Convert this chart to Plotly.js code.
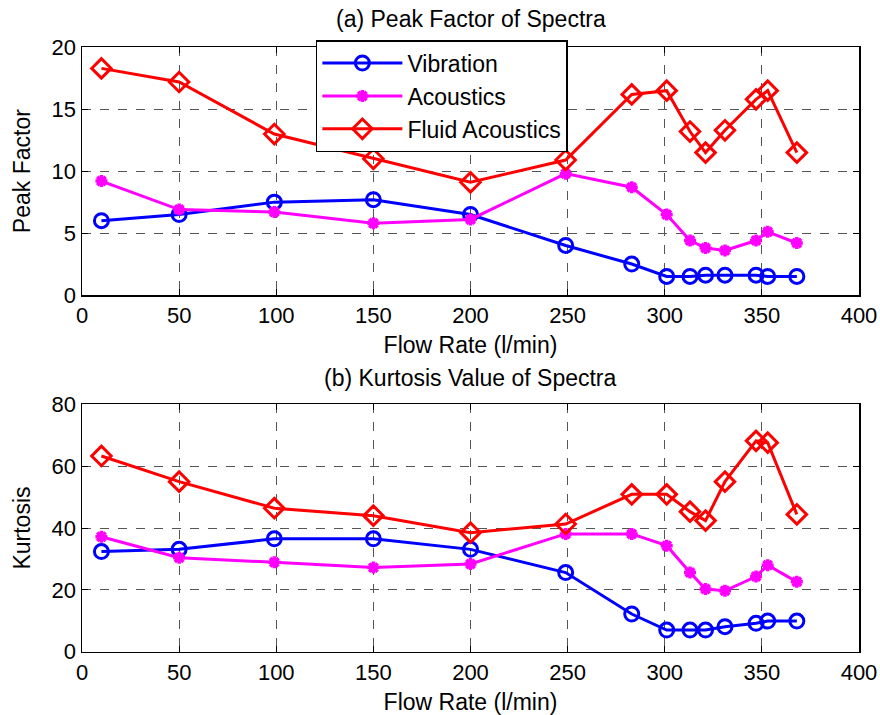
<!DOCTYPE html>
<html>
<head>
<meta charset="utf-8">
<script src="https://cdn.plot.ly/plotly-3.0.1.min.js"></script>
<style>html,body{margin:0;padding:0;background:#fff;}#chart{width:880px;height:715px;}</style>
</head>
<body>
<div id="chart"></div>
<script>
// ---- data ----
var flowRate = [10, 50, 99, 150, 200, 249, 283, 301, 313, 321, 331, 347, 353, 368];

var peakVibration = [6.0, 6.5, 7.5, 7.7, 6.5, 4.0, 2.5, 1.5, 1.5, 1.6, 1.6, 1.6, 1.5, 1.5];
var peakAcoustics = [9.2, 6.9, 6.7, 5.8, 6.1, 9.8, 8.7, 6.5, 4.4, 3.8, 3.6, 4.4, 5.1, 4.2];
var peakFluid = [18.3, 17.2, 13.0, 11.0, 9.1, 10.9, 16.2, 16.5, 13.2, 11.5, 13.3, 15.8, 16.5, 11.5];

var kurtVibration = [32.4, 33.1, 36.5, 36.5, 33.1, 25.6, 12.2, 7.0, 7.0, 7.0, 8.1, 9.2, 9.9, 9.9];
var kurtAcoustics = [37.2, 30.4, 28.9, 27.2, 28.4, 38.1, 38.1, 34.3, 25.6, 20.3, 19.7, 24.3, 28.0, 22.6];
var kurtFluid = [63.3, 55.0, 46.4, 44.0, 38.5, 41.3, 50.9, 50.9, 45.3, 42.4, 55.0, 68.2, 67.6, 44.4];

var seriesNames = ["Vibration", "Acoustics", "Fluid Acoustics"];
var xTickVals = [0, 50, 100, 150, 200, 250, 300, 350, 400];
var titleA = "(a) Peak Factor of Spectra";
var titleB = "(b) Kurtosis Value of Spectra";
var xLabel = "Flow Rate (l/min)";
var yLabelA = "Peak Factor";
var yLabelB = "Kurtosis";

// ---- styles ----
var colors = ["#0000ff", "#ff00ff", "#ff0000"];
var symbols = ["circle-open", "asterisk-open", "diamond-open"];
var msizes = [14, 10, 15];
var FONT = "Liberation Sans, Arial, Helvetica, sans-serif";

function mk(y, i, xa, ya, showLeg) {
  return {
    x: flowRate, y: y, xaxis: xa, yaxis: ya,
    type: "scatter", mode: "lines+markers",
    name: seriesNames[i], showlegend: showLeg, legendgroup: "g" + i,
    line: {color: colors[i], width: 3},
    marker: {symbol: symbols[i], size: msizes[i], color: colors[i],
             line: {color: colors[i], width: i === 1 ? 3.5 : 3}}
  };
}

var data = [
  mk(peakVibration, 0, "x", "y", true),
  mk(peakAcoustics, 1, "x", "y", true),
  mk(peakFluid, 2, "x", "y", true),
  mk(kurtVibration, 0, "x2", "y2", false),
  mk(kurtAcoustics, 1, "x2", "y2", false),
  mk(kurtFluid, 2, "x2", "y2", false)
];

function xax(anchor) {
  return {
    anchor: anchor, range: [0, 400], tickvals: xTickVals,
    showline: true, linecolor: "#000", linewidth: 1.5, mirror: "ticks",
    ticks: "inside", ticklen: 6, tickcolor: "#000",
    showgrid: true, gridcolor: "#555", griddash: "dash", gridwidth: 1,
    zeroline: false,
    tickfont: {family: FONT, size: 22, color: "#000"},
    title: {text: xLabel, font: {family: FONT, size: 23, color: "#000"}, standoff: 10}
  };
}
function yax(anchor, range, dtick, dom, label) {
  return {
    anchor: anchor, range: range, dtick: dtick, domain: dom,
    showline: true, linecolor: "#000", linewidth: 1.5, mirror: "ticks",
    ticks: "inside", ticklen: 6, tickcolor: "#000",
    showgrid: true, gridcolor: "#555", griddash: "dash", gridwidth: 1,
    zeroline: false,
    tickfont: {family: FONT, size: 22, color: "#000"},
    title: {text: label, font: {family: FONT, size: 23, color: "#000"}, standoff: 14}
  };
}

var layout = {
  width: 880, height: 715,
  margin: {l: 82, r: 21, t: 0, b: 0},
  paper_bgcolor: "#fff", plot_bgcolor: "#fff",
  font: {family: FONT, color: "#000"},
  xaxis: xax("y"),
  yaxis: yax("x", [0, 20], 5, [0.5874, 0.9338], yLabelA),
  xaxis2: xax("y2"),
  yaxis2: yax("x2", [0, 80], 20, [0.0885, 0.4345], yLabelB),
  showlegend: true,
  legend: {
    x: 0.301, y: 0.944, xanchor: "left", yanchor: "top",
    bgcolor: "#fff", bordercolor: "#000", borderwidth: 1.5,
    font: {family: FONT, size: 23, color: "#000"},
    itemwidth: 80, tracegroupgap: 4, traceorder: "normal"
  },
  annotations: [
    {text: titleA, xref: "paper", yref: "paper", x: 0.5, y: 1 - 19/715, xanchor: "center", yanchor: "middle",
     showarrow: false, font: {family: FONT, size: 23, color: "#000"}},
    {text: titleB, xref: "paper", yref: "paper", x: 0.5, y: 1 - 378/715, xanchor: "center", yanchor: "middle",
     showarrow: false, font: {family: FONT, size: 23, color: "#000"}}
  ]
};

Plotly.newPlot("chart", data, layout, {displayModeBar: false, staticPlot: true});
</script>
</body>
</html>
